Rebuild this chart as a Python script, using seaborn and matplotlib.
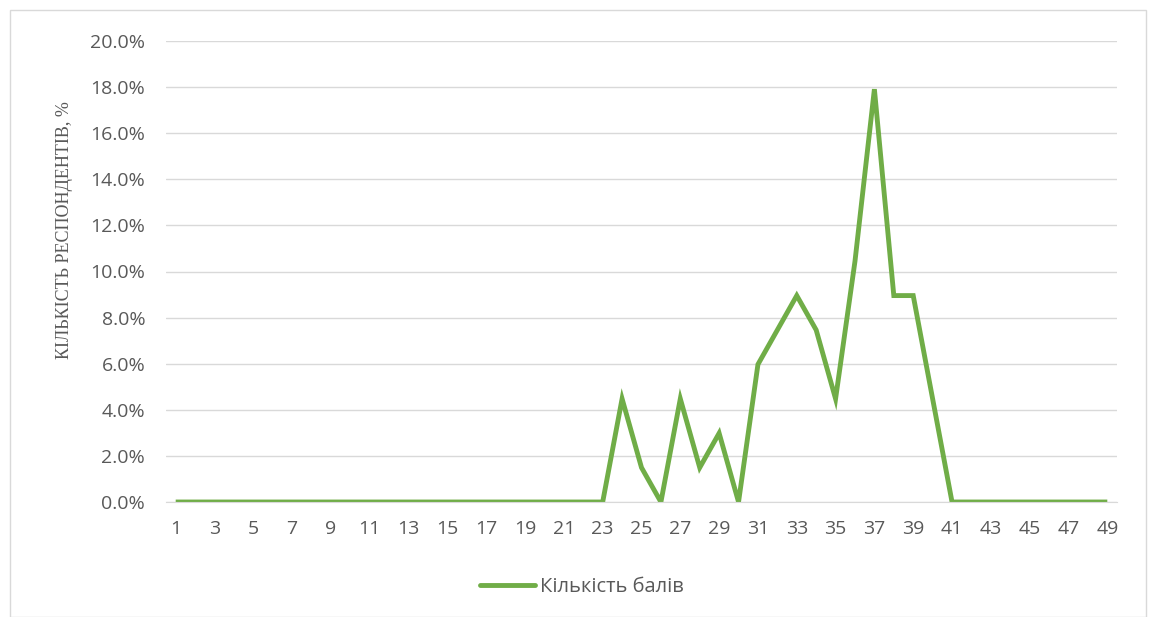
import pandas as pd
import matplotlib.pyplot as plt
import seaborn as sns
from matplotlib.patches import Rectangle
from matplotlib.ticker import PercentFormatter

# score values 1..49 and share of respondents (n = 67)
scores = list(range(1, 50))
counts = [0] * 23 + [3, 1, 0, 3, 1, 2, 0, 4, 5, 6, 5, 3, 7, 12, 6, 6, 3] + [0] * 9
total = 67
share = [c / total * 100 for c in counts]

series_name = 'Кількість балів'
y_label = 'КІЛЬКІСТЬ РЕСПОНДЕНТІВ, %'

df = pd.DataFrame({'score': scores, 'share': share, 'series': series_name})

sns.set_style('white')
plt.rcParams['font.family'] = ['Open Sans', 'DejaVu Sans']

fig = plt.figure(figsize=(11.52, 6.17), dpi=100)
ax = fig.add_axes([166 / 1152, 1 - 502 / 617, (1117 - 166) / 1152, (502 - 41) / 617])

sns.lineplot(data=df, x='score', y='share', hue='series', palette=['#70AD47'],
             linewidth=3.5, ax=ax, legend=True)
for ln in ax.lines:
    ln.set_solid_joinstyle('miter')
    ln.set_solid_capstyle('butt')

ax.set_xlim(0.5, 49.5)
ax.set_ylim(0, 20)
ax.set_yticks(range(0, 21, 2))
ax.yaxis.set_major_formatter(PercentFormatter(decimals=1))
ax.set_xticks(scores[::2])
ax.tick_params(axis='both', length=0, labelsize=14, labelcolor='#595959')
ax.tick_params(axis='x', pad=13)
ax.tick_params(axis='y', pad=15)
ax.grid(axis='y', color='#D9D9D9', linewidth=1.0)
ax.set_axisbelow(True)
for s in ['top', 'right', 'left']:
    ax.spines[s].set_visible(False)
ax.spines['bottom'].set_color('#D9D9D9')

ax.set_xlabel('')
ax.set_ylabel(y_label, family=['Liberation Serif'], fontsize=13, color='#595959')
ax.yaxis.set_label_coords(-0.098, 0.59)

handles, labels = ax.get_legend_handles_labels()
ax.get_legend().remove()
leg = fig.legend(handles, labels, loc='center', bbox_to_anchor=(582 / 1152, 1 - 587 / 617),
                 frameon=False, fontsize=14.5, handlelength=2.7, handletextpad=0.25)
for t in leg.get_texts():
    t.set_color('#595959')
for h in leg.get_lines():
    h.set_linewidth(3.5)
    h.set_solid_capstyle('round')

fig.add_artist(Rectangle((10 / 1152, 0), 1136 / 1152, 1 - 10 / 617, transform=fig.transFigure,
                         fill=False, edgecolor='#D9D9D9', linewidth=1.0))

fig.savefig('out.png', dpi=100)
plt.close(fig)
